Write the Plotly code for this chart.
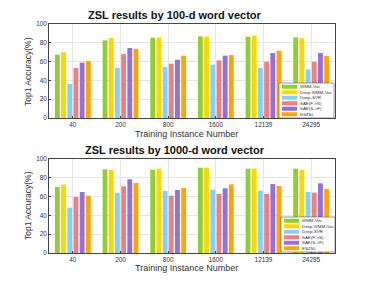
import plotly.graph_objects as go
from plotly.subplots import make_subplots

categories = ["40", "200", "800", "1600", "12139", "24295"]
series_names = ["WMM-Voc", "Deep WMM-Voc", "Deep-SVR", "SAE(F->S)", "SAE(S->F)", "ESZSL"]
colors = ["#92CD32", "#FFD700", "#87CEFA", "#F08080", "#9370DB", "#FFA500"]

vals_100d = [
    [67.4, 82.6, 85.5, 86.9, 86.5, 85.8],   # WMM-Voc
    [69.9, 85.1, 85.5, 86.5, 87.6, 85.1],   # Deep WMM-Voc
    [36.2, 53.2, 54.3, 56.7, 53.2, 51.8],   # Deep-SVR
    [53.2, 68.0, 57.8, 61.3, 59.9, 59.9],   # SAE(F->S)
    [58.9, 74.5, 62.0, 66.3, 69.1, 69.1],   # SAE(S->F)
    [60.6, 73.4, 66.3, 67.0, 71.6, 66.0],   # ESZSL
]
vals_1000d = [
    [70.2, 89.0, 88.7, 90.8, 89.7, 89.7],
    [72.7, 88.3, 89.7, 90.8, 89.7, 88.3],
    [48.2, 63.8, 66.0, 67.4, 66.3, 64.9],
    [59.6, 70.9, 61.0, 62.8, 62.8, 64.2],
    [64.9, 78.4, 67.0, 68.8, 73.4, 74.1],
    [61.0, 74.5, 69.1, 73.0, 71.3, 68.0],
]
titles = ["ZSL results by 100-d word vector", "ZSL results by 1000-d word vector"]
x_title = "Training Instance Number"
y_title = "Top1 Accuracy(%)"
y_ticks = [0, 20, 40, 60, 80, 100]

OFF = 8  # browser default body margin
W, H = 370 - OFF, 285 - OFF
# plot area in window pixels: x 49..335, y 24..253
ML, MR, MT, MB = 49 - OFF, 370 - 335, 24 - OFF, 285 - 253
PW, PH = W - ML - MR, H - MT - MB

def px(x):
    return (x - OFF - ML) / PW

def py(y):
    return (H - MB - (y - OFF)) / PH

fig = make_subplots(rows=2, cols=1, vertical_spacing=0.1)
for row, data in ((1, vals_100d), (2, vals_1000d)):
    for name, col, v in zip(series_names, colors, data):
        fig.add_trace(go.Bar(x=categories, y=v, name=name, marker_color=col,
                             marker_line_width=0, showlegend=False), row=row, col=1)

fig.update_layout(
    width=W, height=H, margin=dict(l=ML, r=MR, t=MT, b=MB),
    paper_bgcolor="white", plot_bgcolor="white",
    barmode="group", bargap=0.22, bargroupgap=0.22,
    font=dict(family="Liberation Sans, Arial", size=7, color="#333"),
)
fig.update_layout(
    yaxis=dict(domain=[py(118), 1.0]),
    yaxis2=dict(domain=[0.0, py(159)]),
)
fig.update_yaxes(range=[0, 100], tickvals=y_ticks, showgrid=True, gridcolor="#e6e6e6",
                 gridwidth=0.6, showline=True, linecolor="#444", linewidth=0.8, mirror=True,
                 ticks="inside", ticklen=2, tickcolor="#444", zeroline=False,
                 tickfont=dict(size=6.4, color="#333"))
fig.update_xaxes(showgrid=True, gridcolor="#e6e6e6", gridwidth=0.6, showline=True,
                 linecolor="#444", linewidth=0.8, mirror=True, ticks="inside", ticklen=2,
                 tickcolor="#444", tickfont=dict(size=6.4, color="#333"))

ann = []
# titles and axis labels
for i, (ty, xly, yly) in enumerate(((15, 134, 72), (150, 268, 206))):
    ann.append(dict(text="<b>" + titles[i] + "</b>", x=px(175), y=py(ty), xref="paper", yref="paper",
                    showarrow=False, font=dict(size=11, color="#111"), xanchor="center", yanchor="middle"))
    ann.append(dict(text=x_title, x=px(186), y=py(xly), xref="paper", yref="paper",
                    showarrow=False, font=dict(size=9, color="#333"), xanchor="center", yanchor="middle"))
    ann.append(dict(text=y_title, x=px(28), y=py(yly), xref="paper", yref="paper", textangle=-90,
                    showarrow=False, font=dict(size=8.5, color="#333"), xanchor="center", yanchor="middle"))

shapes = []
# manual legends
for (bx0, by0, bx1, by1) in ((279, 83, 334, 118), (281, 217, 335, 252)):
    shapes.append(dict(type="rect", xref="paper", yref="paper", x0=px(bx0), x1=px(bx1),
                       y0=py(by0), y1=py(by1), fillcolor="white", line=dict(color="#555", width=0.6)))
    row_h = (by1 - by0 - 2) / len(series_names)
    for k, (name, col) in enumerate(zip(series_names, colors)):
        cy = by0 + 1 + row_h * (k + 0.5)
        shapes.append(dict(type="rect", xref="paper", yref="paper", x0=px(bx0 + 3), x1=px(bx0 + 18),
                           y0=py(cy - 2), y1=py(cy + 2), fillcolor=col, line=dict(width=0)))
        ann.append(dict(text=name, x=px(bx0 + 19), y=py(cy), xref="paper", yref="paper",
                        showarrow=False, font=dict(size=4.4, color="#333"), xanchor="left",
                        yanchor="middle"))

fig.update_layout(annotations=ann, shapes=shapes)
fig.write_html("out.html")
